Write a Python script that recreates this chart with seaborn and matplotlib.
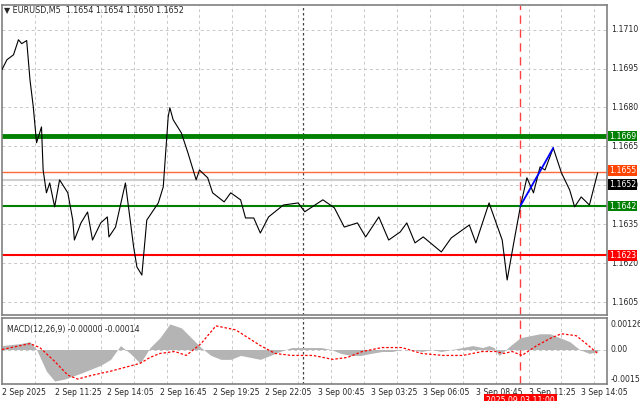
import matplotlib
matplotlib.use("Agg")
import matplotlib.pyplot as plt
import seaborn as sns
import pandas as pd
import numpy as np

sns.set_style("white")
plt.rcParams['font.family'] = ['DejaVu Sans']

# price samples: bar index (5-min bars from 2 Sep 08:45) and close
price_bars = [0, 3, 7, 10, 12, 15, 17, 19, 21, 24, 25, 27, 29, 32, 35, 40, 43, 44, 48, 52, 55, 60, 64, 65, 69,
              75, 80, 82, 85, 88, 95, 98, 101, 102, 104, 109, 113, 118, 120, 125, 128, 135, 139, 145, 148, 153,
              157, 162, 171, 180, 184, 195, 202, 208, 216, 221, 229, 235, 242, 246, 251, 256, 267, 273, 284, 288,
              296, 304, 307, 311, 315, 319, 323, 327, 330, 335, 340, 345, 348, 352, 357, 362]
price_vals = [1.16946, 1.16984, 1.17003, 1.17061, 1.17046, 1.17058, 1.16907, 1.16803, 1.16664, 1.16725, 1.16559,
              1.16471, 1.16509, 1.16417, 1.16521, 1.16471, 1.16366, 1.16289, 1.16355, 1.16397, 1.16289, 1.16355,
              1.16378, 1.16301, 1.16339, 1.16509, 1.16262, 1.16185, 1.16154, 1.16366, 1.16432, 1.16494, 1.16764,
              1.16799, 1.16753, 1.16702, 1.16625, 1.16521, 1.16559, 1.16529, 1.16471, 1.16436, 1.16471, 1.16444,
              1.16374, 1.16374, 1.16316, 1.16378, 1.16424, 1.16432, 1.16398, 1.16444, 1.16413, 1.16339, 1.16355,
              1.16301, 1.16378, 1.16289, 1.16320, 1.16355, 1.16278, 1.16301, 1.16243, 1.16297, 1.16347, 1.16278,
              1.16432, 1.16289, 1.16135, 1.16278, 1.16417, 1.16529, 1.16471, 1.16571, 1.16559, 1.16644, 1.16548,
              1.16482, 1.16417, 1.16455, 1.16424, 1.16548]

macd_bars = [0, 11, 17, 21, 27, 32, 38, 48, 54, 60, 66, 72, 78, 84, 90, 96, 102, 109, 115, 121, 127, 133, 139,
             145, 151, 157, 163, 169, 176, 182, 188, 194, 200, 206, 212, 218, 224, 231, 237, 243, 249, 255, 261,
             267, 273, 280, 286, 292, 296, 299, 302, 305, 309, 315, 321, 327, 333, 339, 345, 351, 357, 362]
macd_hist = [0.0002, 0.0003, 0.0004, 0.0, -0.0011, -0.0016, -0.0015, -0.0012, -0.0010, -0.0008, -0.0005,
             0.0002, -0.0002, -0.0007, 0.0001, 0.0006, 0.0013, 0.0011, 0.0006, 0.0001, -0.0003, -0.0005, -0.0005,
             -0.0003, -0.0004, -0.0005, -0.0003, -0.0001, 0.0001, 0.0001, 0.0001, 0.0001, 0.0, -0.0002, -0.0003,
             -0.0003, -0.0002, -0.0001, -0.0001, 0.0, 0.0, -0.0001, 0.0, -0.0001, 0.0, 0.0001, 0.0002, 0.0001,
             0.0002, 0.0001, -0.0003, -0.0001, 0.0002, 0.0006, 0.0007, 0.0008, 0.0008, 0.0006, 0.0004, 0.0,
             -0.0002, -0.0001]
sig_bars = [0, 17, 23, 32, 40, 46, 55, 66, 75, 84, 90, 96, 105, 112, 121, 130, 142, 157, 166, 176, 189, 201,
            210, 219, 231, 243, 255, 268, 280, 292, 300, 305, 310, 316, 325, 334, 340, 349, 355, 362]
sig_vals = [0.0, 0.0003, 0.0001, -0.0006, -0.0013, -0.0015, -0.0013, -0.0011, -0.0009, -0.0007, -0.0004,
            -0.0002, -0.0001, -0.0003, 0.0003, 0.0012, 0.0010, 0.0002, -0.0002, -0.0003, -0.0003, -0.0005,
            -0.0004, -0.0001, 0.0001, 0.0001, -0.0002, -0.0003, -0.0003, -0.0001, -0.0001, -0.0002, -0.0001,
            -0.0003, 0.0002, 0.0006, 0.0008, 0.0007, 0.0003, -0.0002]

price_ticks = [1.1710, 1.1695, 1.1680, 1.1665, 1.1650, 1.1635, 1.1620, 1.1605]
time_tick_bars = [0, 32, 64, 96, 128, 160, 192, 224, 256, 288, 320, 352]
time_tick_labels = ["2 Sep 2025", "2 Sep 11:25", "2 Sep 14:05", "2 Sep 16:45", "2 Sep 19:25",
                    "2 Sep 22:05", "3 Sep 00:45", "3 Sep 03:25", "3 Sep 06:05", "3 Sep 08:45",
                    "3 Sep 11:25", "3 Sep 14:05"]
levels = {"1.1669": (1.1669, "#008000", 3.5), "1.1655": (1.1655, "#ff6a3d", 1.0),
          "1.1652": (1.1652, "#d0d0d0", 1.5), "1.1642": (1.1642, "#008000", 1.5),
          "1.1623": (1.1623, "#ff0000", 1.5)}
label_bg = {"1.1669": "#008000", "1.1655": "#ff4500", "1.1652": "#000000", "1.1642": "#008000", "1.1623": "#ff0000"}
label_shift = {"1.1669": 0, "1.1655": 1.5, "1.1652": -3, "1.1642": 0, "1.1623": 0}
event_bar = 315
day_bar = 183
trend = ([315, 335], [1.1642, 1.16644])

W, H = 640, 401
fig = plt.figure(figsize=(6.4, 4.01), dpi=100)
ax = fig.add_axes([2 / W, 1 - 315 / H, 605 / W, 310 / H])
axm = fig.add_axes([2 / W, 1 - 384 / H, 605 / W, 66 / H], sharex=ax)

xmax = 603 / 1.64
grid_kw = dict(color="#c8c8c8", ls=(0, (3, 3)), lw=0.7)
for a in (ax, axm):
    for b in np.arange(20, xmax, 20):
        a.axvline(b, zorder=0, **grid_kw)
    a.axvline(day_bar, color="#444444", ls=(0, (2, 2)), lw=0.9, zorder=1)
    a.axvline(event_bar, color="#ff4040", ls=(0, (6, 4)), lw=1.0, zorder=1)
    for s in a.spines.values():
        s.set_color("#808080")
        s.set_linewidth(1.2)
    a.tick_params(length=0)

for p in price_ticks:
    ax.axhline(p, zorder=0, **grid_kw)
for name, (v, c, lw) in levels.items():
    ax.axhline(v, color=c, lw=lw, zorder=2)

df = pd.DataFrame({"bar": price_bars, "price": price_vals})
sns.lineplot(data=df, x="bar", y="price", ax=ax, color="black", lw=0.8, zorder=3)
ax.plot(trend[0], trend[1], color="#0000ff", lw=1.3, zorder=4)
ax.set_ylim(1.16000, 1.17195)
ax.set_xlim(0, xmax)
ax.set_xlabel("")
ax.set_ylabel("")
ax.set_yticks([])
ax.tick_params(labelbottom=False)
ax.xaxis.get_offset_text().set_visible(False)
ax.yaxis.get_offset_text().set_visible(False)

fs = 5.6
for p in price_ticks:
    ax.text(1.006, p, f"{p:.4f}", transform=ax.get_yaxis_transform(), fontsize=fs, va="center", ha="left")
for name, (v, c, lw) in levels.items():
    t = ax.annotate(name, (1.003, v), xycoords=ax.get_yaxis_transform(), xytext=(0, label_shift[name]),
                    textcoords="offset points", fontsize=fs, va="center", ha="left", color="white",
                    bbox=dict(boxstyle="square,pad=0.12", fc=label_bg[name], ec="none"),
                    zorder=5, annotation_clip=False)

fig.text(4 / W, 1 - 11 / H, "▼ EURUSD,M5  1.1654 1.1654 1.1650 1.1652", fontsize=5.8, va="center")

# MACD
axm.fill_between(macd_bars, 0, macd_hist, color="#b4b4b4", lw=0, zorder=2)
sdf = pd.DataFrame({"bar": sig_bars, "sig": sig_vals})
sns.lineplot(data=sdf, x="bar", y="sig", ax=axm, color="#ff0000", lw=0.9, ls=(0, (2, 1.5)), zorder=3)
axm.axhline(0, zorder=0, **grid_kw)
axm.set_ylim(-0.00175, 0.00160)
axm.set_yticks([])
axm.set_ylabel("")
axm.yaxis.get_offset_text().set_visible(False)
for v, t in [(0.00126, "0.00126"), (0.0, "0.00"), (-0.00151, "-0.00151")]:
    axm.text(1.006, v, t, transform=axm.get_yaxis_transform(), fontsize=fs, va="center", ha="left")
axm.text(0.008, 0.9, "MACD(12,26,9) -0.00000 -0.00014", transform=axm.transAxes, fontsize=fs, va="top")

axm.set_xticks(time_tick_bars)
axm.set_xticklabels(time_tick_labels, fontsize=fs, ha="left")
axm.tick_params(axis="x", pad=3)
axm.set_xlabel("")
axm.text(event_bar, -0.25, "2025.09.03 11:00", transform=axm.get_xaxis_transform(), fontsize=fs,
         color="white", ha="center", va="center", bbox=dict(boxstyle="square,pad=0.25", fc="#ff0000", ec="none"),
         clip_on=False, zorder=10)

fig.savefig("out.png", dpi=100, facecolor="white")
